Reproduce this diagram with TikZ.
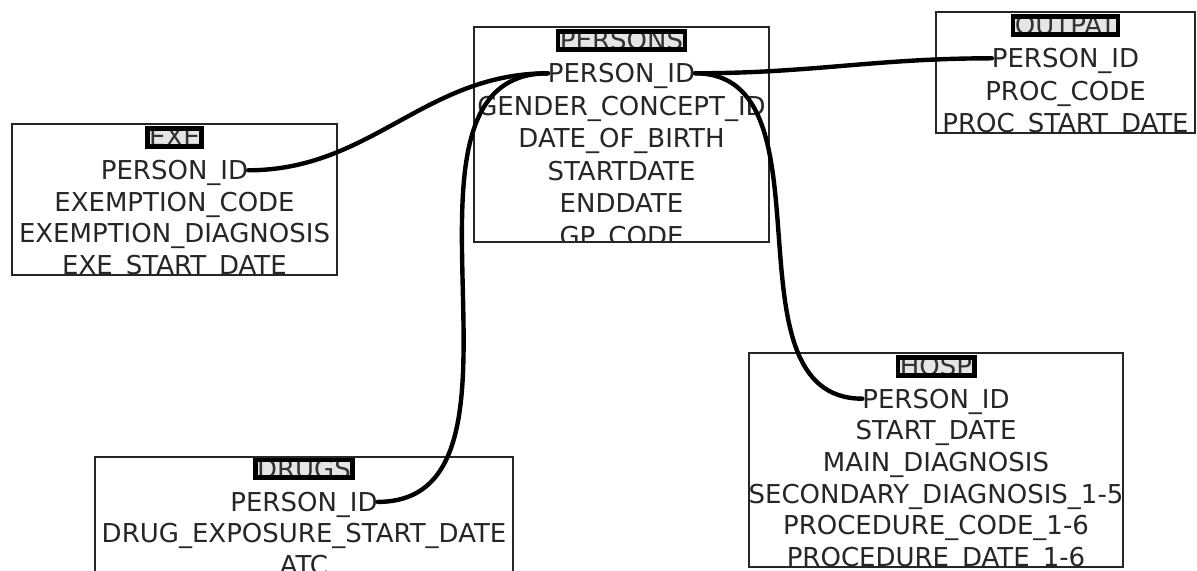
\documentclass[tikz,border=0pt]{standalone}
\usepackage{fontspec}
\setmainfont{DejaVu Sans}
\usetikzlibrary{positioning}

\begin{document}
\begin{tikzpicture}[
  x=0.5pt, y=-0.5pt,
  tbl/.style={draw=black!85, line width=0.8pt, inner sep=0pt, outer sep=0pt},
  title/.style={fill=gray!20, text=black!80, inner xsep=1pt, inner ysep=-0.3pt, outer sep=0pt, text height=9.5pt, text depth=0pt, font=\fontsize{13pt}{15pt}\selectfont},
  titlebar/.style={draw=black, line width=2.4pt},
  row/.style={text=black!85, inner sep=0pt, outer sep=0pt, text height=9.5pt, text depth=0pt, font=\fontsize{13pt}{15pt}\selectfont},
  link/.style={line width=2.2pt, line cap=round}
]
\clip (0,0) rectangle (1197,571);
\fill[white] (0,0) rectangle (1197,571);

% PERSONS
\node[tbl, minimum width=147.5pt, minimum height=107.5pt] (persons) at (621.5,134.5) {};
\begin{scope}[node distance=6.75pt]
\clip (persons.north west) rectangle (persons.south east);
\node[title, below=2.2pt of persons.north] (ptitle) {PERSONS};
\node[row, below=7.3pt of ptitle] (pid) {PERSON\_ID};
\node[row, below=of pid] (pgender) {GENDER\_CONCEPT\_ID};
\node[row, below=of pgender] (pdob) {DATE\_OF\_BIRTH};
\node[row, below=of pdob] (pstart) {STARTDATE};
\node[row, below=of pstart] (pend) {ENDDATE};
\node[row, below=of pend] (pgp) {GP\_CODE};
\end{scope}

% OUTPAT
\node[tbl, minimum width=129.5pt, minimum height=60.5pt] (outpat) at (1065.5,72.5) {};
\begin{scope}[node distance=6.75pt]
\clip (outpat.north west) rectangle (outpat.south east);
\node[title, below=2.2pt of outpat.north] (otitle) {OUTPAT};
\node[row, below=7.3pt of otitle] (oid) {PERSON\_ID};
\node[row, below=of oid] (ocode) {PROC\_CODE};
\node[row, below=of ocode] (ostart) {PROC\_START\_DATE};
\end{scope}

% EXE
\node[tbl, minimum width=162.5pt, minimum height=75.5pt] (exe) at (174.5,199.5) {};
\begin{scope}[node distance=6.25pt]
\clip (exe.north west) rectangle (exe.south east);
\node[title, below=2.2pt of exe.north] (etitle) {EXE};
\node[row, below=7.3pt of etitle] (eid) {PERSON\_ID};
\node[row, below=of eid] (ecode) {EXEMPTION\_CODE};
\node[row, below=of ecode] (ediag) {EXEMPTION\_DIAGNOSIS};
\node[row, below=of ediag] (estart) {EXE\_START\_DATE};
\end{scope}

% DRUGS
\node[tbl, minimum width=209pt, minimum height=81.5pt] (drugs) at (304,538.5) {};
\begin{scope}[node distance=6.25pt]
\clip (drugs.north west) rectangle (drugs.south east);
\node[title, below=1.5pt of drugs.north] (dtitle) {DRUGS};
\node[row, below=7.3pt of dtitle] (did) {PERSON\_ID};
\node[row, below=of did] (dstart) {DRUG\_EXPOSURE\_START\_DATE};
\node[row, below=of dstart] (datc) {ATC};
\end{scope}

% HOSP
\node[tbl, minimum width=187pt, minimum height=107pt] (hosp) at (936,460) {};
\begin{scope}[node distance=6.3pt]
\clip (hosp.north west) rectangle (hosp.south east);
\node[title, below=2.2pt of hosp.north] (htitle) {HOSP};
\node[row, below=7pt of htitle] (hid) {PERSON\_ID};
\node[row, below=of hid] (hstart) {START\_DATE};
\node[row, below=of hstart] (hmain) {MAIN\_DIAGNOSIS};
\node[row, below=of hmain] (hsec) {SECONDARY\_DIAGNOSIS\_1-5};
\node[row, below=of hsec] (hcode) {PROCEDURE\_CODE\_1-6};
\node[row, below=of hcode] (hdate) {PROCEDURE\_DATE\_1-6};
\end{scope}

\foreach \t in {ptitle,otitle,etitle,dtitle,htitle}
  \draw[titlebar] (\t.north west) rectangle (\t.south east);

\draw[link] (eid) to[out=0,in=180] (pid);
\draw[link] (did) to[out=0,in=180] (pid);
\draw[link] (pid) to[out=0,in=180] (oid);
\draw[link] (pid) to[out=0,in=180] (hid);
\end{tikzpicture}
\end{document}
